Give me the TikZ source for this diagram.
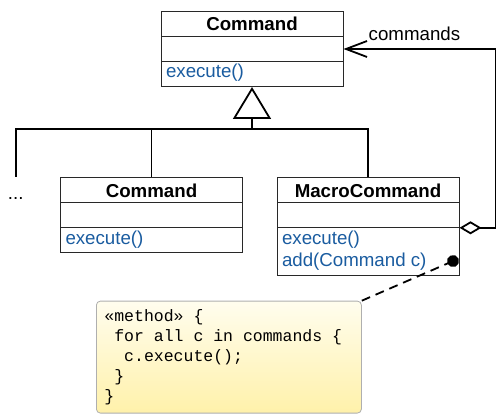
\documentclass[tikz,border=0pt]{standalone}
\usepackage{fontspec}
\setmainfont{Liberation Sans}
\setmonofont{Liberation Mono}
\usetikzlibrary{shapes.multipart,arrows.meta,positioning}

\definecolor{opblue}{RGB}{26,92,160}
\definecolor{boxline}{RGB}{40,40,40}
\definecolor{notetop}{RGB}{255,253,238}
\definecolor{notebottom}{RGB}{255,241,170}
\definecolor{noteframe}{RGB}{175,175,175}

\newcommand{\titlestrut}{\rule[-5pt]{0pt}{24pt}}
\newcommand{\opstrut}{\rule[-8pt]{0pt}{24pt}}
\newcommand{\emptyrow}{\rule{0pt}{24pt}}
\newcommand{\classname}[1]{\makebox[172pt]{\bfseries\titlestrut #1}}
\newcommand{\oneop}[1]{\makebox[172pt][l]{\color{opblue}\opstrut #1}}

\tikzset{
  umlclass/.style={rectangle split, rectangle split parts=3, draw=boxline,
    line width=1pt, fill=white, inner xsep=5pt, inner ysep=0pt,
    font=\fontsize{18.7}{22}\selectfont},
  lbl/.style={font=\fontsize{18.7}{22}\selectfont, inner sep=0pt},
  conn/.style={line width=1.8pt},
  notebox/.style={draw=noteframe, line width=0.8pt, rounded corners=4pt,
    top color=notetop, bottom color=notebottom, text width=249pt,
    inner xsep=8pt, minimum height=112pt, align=left,
    font=\ttfamily\fontsize{16.5}{20}\selectfont},
  pinline/.style={line width=1.8pt, dash pattern=on 9pt off 6pt,
    -{Circle[length=12pt]}}
}

\begin{document}
\begin{tikzpicture}[x=1pt,y=-1pt]
\useasboundingbox (0,0) rectangle (500,414);

% classes
\node[umlclass, anchor=north] (cmd) at (252,11)
  {\classname{Command}\nodepart{two}\emptyrow\nodepart{three}\oneop{execute()}};
\node[umlclass, anchor=north] (leaf) at (151.5,177.3)
  {\classname{Command}\nodepart{two}\emptyrow\nodepart{three}\oneop{execute()}};
\node[umlclass, anchor=north] (macro) at (368,177.3)
  {\classname{MacroCommand}\nodepart{two}\emptyrow
   \nodepart{three}\parbox[t]{172pt}{\color{opblue}\rule{0pt}{16pt}execute()\\
   add(Command c)\rule[-8.6pt]{0pt}{8.6pt}}};
\node[lbl, anchor=base] (more) at (15.7,199) {...};

% generalization
\coordinate (hub) at (252,129);
\coordinate (moreTop) at (15.7,176.7);
\draw[conn, {Triangle[open,length=32pt,width=38pt]}-] (cmd.south) -- (hub);
\draw[conn] (moreTop) |- (hub) -| (macro.north);
\draw[conn] (hub) -| (leaf.north);

% aggregation
\draw[conn, {Diamond[open,length=22pt,width=13pt]}-{Straight Barb[length=21pt,width=16pt]}]
  (macro.two split east) -- ++(36,0) |- (cmd.east);
\node[lbl, anchor=base west] (cmdsLabel) at ([xshift=25pt,yshift=8.7pt]cmd.east) {commands};

% note
\node[notebox, anchor=north west] (note) at (96,300.7)
  {\spaceskip=0pt\xspaceskip=0pt
   «method» \{\\\ for all c in commands \{\\\ \ c.execute();\\\ \}\\\}};
\coordinate (addPin) at (458.5,258.7);
\draw[pinline] (note.north east) -- (addPin);
\end{tikzpicture}
\end{document}
